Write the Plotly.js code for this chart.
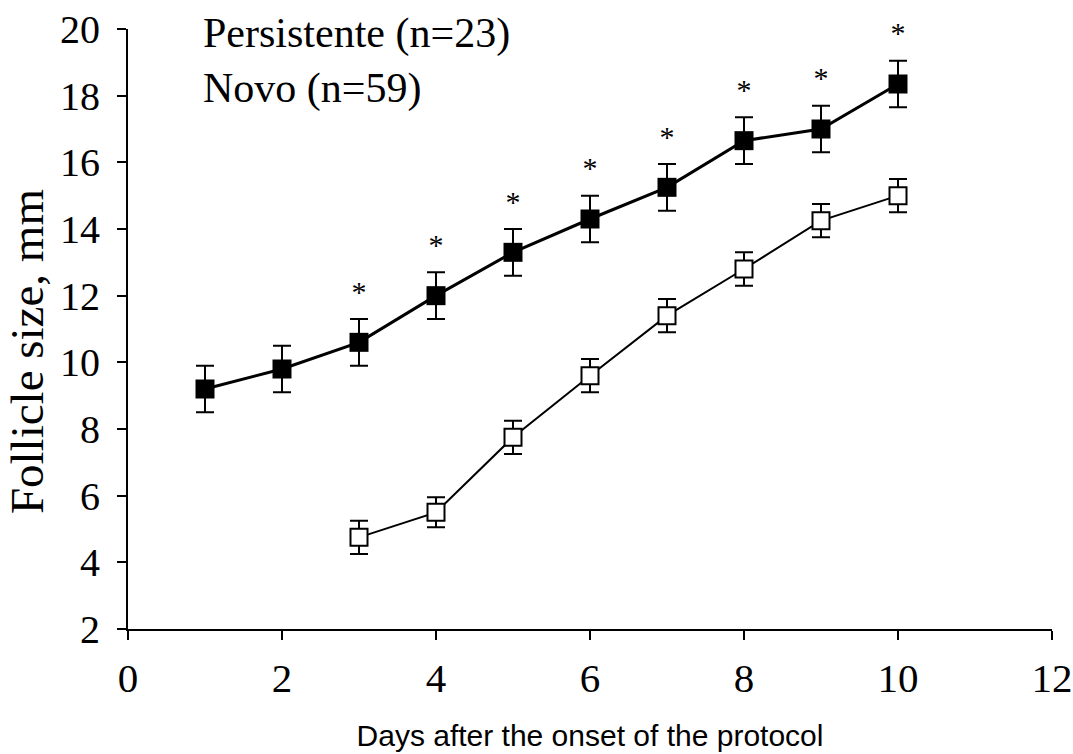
<!DOCTYPE html>
<html>
<head>
<meta charset="utf-8">
<script src="https://cdn.plot.ly/plotly-3.0.1.min.js"></script>
<style>
  html, body { margin: 0; padding: 0; background: #fff; }
  #chart { width: 1073px; height: 754px; }
</style>
</head>
<body>
<div id="chart"></div>
<script>
// Days after protocol onset
const daysPersistente = [1, 2, 3, 4, 5, 6, 7, 8, 9, 10];
const daysNovo = [3, 4, 5, 6, 7, 8, 9, 10];

// Mean follicle size (mm) and SEM for each group
const sizePersistente = [9.2, 9.8, 10.6, 12.0, 13.3, 14.3, 15.25, 16.65, 17.0, 18.35];
const semPersistente = [0.7, 0.7, 0.7, 0.7, 0.7, 0.7, 0.7, 0.7, 0.7, 0.7];
const sizeNovo = [4.75, 5.5, 7.75, 9.6, 11.4, 12.8, 14.25, 15.0];
const semNovo = [0.5, 0.45, 0.5, 0.5, 0.5, 0.5, 0.5, 0.5];

// Days with a significant difference between groups
const sigDays = [3, 4, 5, 6, 7, 8, 9, 10];

const legendLines = ['Persistente (n=23)', 'Novo (n=59)'];
const xTicks = [0, 2, 4, 6, 8, 10, 12];
const yTicks = [2, 4, 6, 8, 10, 12, 14, 16, 18, 20];

const serif = '"Liberation Serif", "Times New Roman", serif';

// Star markers sit a fixed gap above the upper error bar
const sigY = sigDays.map(d => {
  const i = daysPersistente.indexOf(d);
  return sizePersistente[i] + semPersistente[i] + 0.75;
});

const traces = [
  {
    x: daysPersistente, y: sizePersistente,
    type: 'scatter', mode: 'lines+markers',
    line: { color: '#000', width: 3 },
    marker: { symbol: 'square', size: 19, color: '#000' },
    error_y: { type: 'data', array: semPersistente, visible: true, color: '#000', thickness: 2, width: 9 },
    showlegend: false, hoverinfo: 'x+y'
  },
  {
    x: daysNovo, y: sizeNovo,
    type: 'scatter', mode: 'lines+markers',
    line: { color: '#000', width: 2 },
    marker: { symbol: 'square', size: 17, color: '#fff', line: { color: '#000', width: 2 } },
    error_y: { type: 'data', array: semNovo, visible: true, color: '#000', thickness: 2, width: 9 },
    showlegend: false, hoverinfo: 'x+y'
  },
  {
    x: sigDays, y: sigY,
    type: 'scatter', mode: 'text',
    text: sigDays.map(() => '*'),
    textposition: 'middle center',
    textfont: { family: serif, size: 30, color: '#000' },
    cliponaxis: false,
    showlegend: false, hoverinfo: 'skip'
  }
];

// Group labels as one two-line text block
const legendNote = {
  text: legendLines.join('<br>'), xref: 'paper', yref: 'paper',
  x: 0.079, y: 1.035, xanchor: 'left', yanchor: 'top', align: 'left',
  showarrow: false,
  font: { family: serif, size: 42, color: '#000' }
};

// Y-axis title placed as a rotated annotation
const yTitle = {
  text: 'Follicle size, mm', xref: 'paper', yref: 'paper',
  x: -0.109, y: 0.462, xanchor: 'center', yanchor: 'middle',
  textangle: -90, showarrow: false,
  font: { family: serif, size: 47, color: '#000' }
};

const layout = {
  width: 1073, height: 754,
  margin: { l: 128, r: 21, t: 29, b: 125 },
  paper_bgcolor: '#fff', plot_bgcolor: '#fff',
  showlegend: false,
  xaxis: {
    range: [0, 12], tickvals: xTicks, ticktext: xTicks.map(String),
    showline: true, linecolor: '#000', linewidth: 2,
    ticks: 'outside', ticklen: 9, tickwidth: 2, tickcolor: '#000',
    showgrid: false, zeroline: false,
    tickfont: { family: serif, size: 41, color: '#000' },
    ticklabelstandoff: 3,
    title: { text: 'Days after the onset of the protocol', standoff: 25,
             font: { family: '"Liberation Sans", Arial, sans-serif', size: 30, color: '#000' } }
  },
  yaxis: {
    range: [2, 20], tickvals: yTicks, ticktext: yTicks.map(String),
    showline: true, linecolor: '#000', linewidth: 2,
    ticks: 'outside', ticklen: 9, tickwidth: 2, tickcolor: '#000',
    showgrid: false, zeroline: false,
    tickfont: { family: serif, size: 40, color: '#000' },
    ticklabelstandoff: 9
  },
  annotations: [legendNote, yTitle]
};

Plotly.newPlot('chart', traces, layout, { displayModeBar: false, staticPlot: true });
</script>
</body>
</html>
